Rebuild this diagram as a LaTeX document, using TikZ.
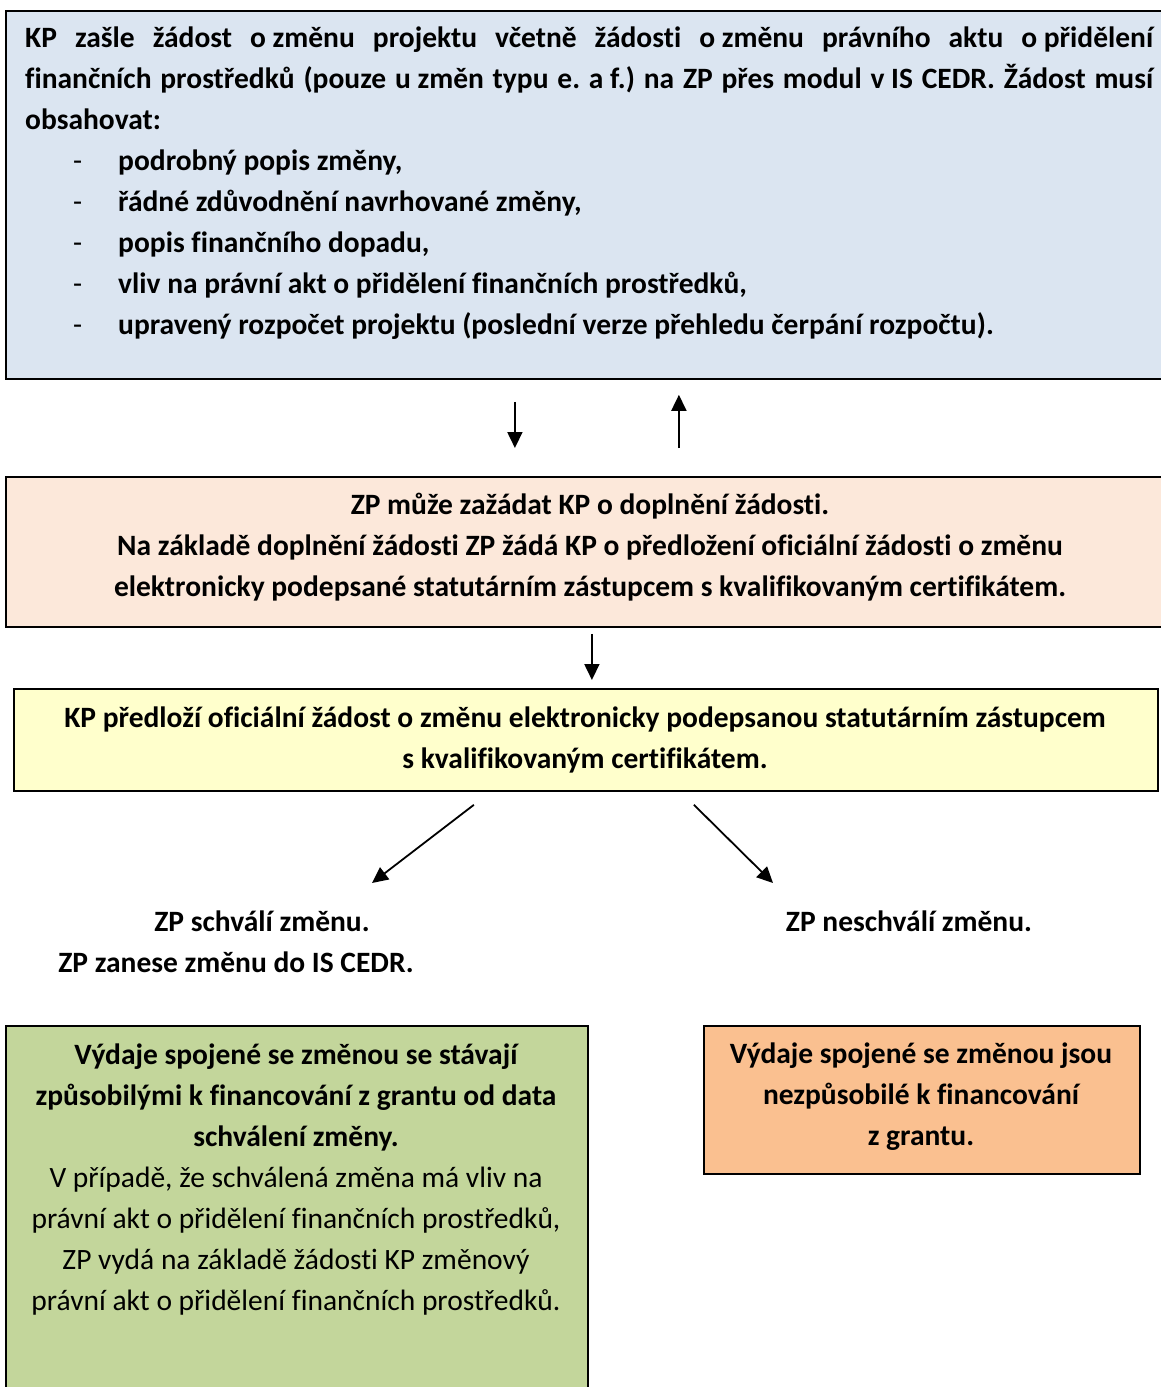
\documentclass[tikz,border=0pt]{standalone}
\usepackage{fontspec}
\setmainfont{Carlito}[Ligatures=NoCommon]
\usetikzlibrary{positioning, arrows.meta}
\definecolor{reqblue}{HTML}{DBE5F1}
\definecolor{askpeach}{HTML}{FCE8DA}
\definecolor{subyellow}{HTML}{FFFFCC}
\definecolor{okgreen}{HTML}{C3D69B}
\definecolor{noorange}{HTML}{FAC090}
\hyphenpenalty=10000
\exhyphenpenalty=10000
\frenchspacing
\newcommand{\reqitem}{\hspace*{48pt}\makebox[45pt][l]{\mdseries -}}

\begin{document}
\begin{tikzpicture}[
                    x=1pt, y=-1pt,
                    every node/.style={font=\fontsize{29.5}{41}\selectfont\bfseries, inner sep=0pt},
                    frame/.style={draw=black, line width=1.8pt, anchor=north west},
                    arr/.style={-{Triangle[length=16pt,width=15pt]}, line width=1.8pt}
                ]
                \useasboundingbox (0,0) rectangle (1161,1387);
                % boxes
                \node[frame, fill=reqblue, minimum width=1170pt, minimum height=368pt] (req) at (5,10) {};
                \node[frame, fill=askpeach, minimum width=1170pt, minimum height=150pt] (ask) at (5,476) {};
                \node[frame, fill=subyellow, minimum width=1144pt, minimum height=102pt] (sub) at (13,688) {};
                \node[frame, fill=okgreen, minimum width=582pt, minimum height=420pt] (ok) at (5,1025) {};
                \node[frame, fill=noorange, minimum width=436pt, minimum height=148pt] (no) at (703,1025) {};
                % texts (align=center nodes sit on the baseline of their last line)
                \node[anchor=base west, text width=1128pt, align=justify] (reqtext) at (25,47) {%
                  KP zašle žádost \mbox{o změnu} projektu včetně žádosti \mbox{o změnu} právního aktu \mbox{o přidělení}\linebreak
                  finančních prostředků (pouze \mbox{u změn} typu e. \mbox{a f.)} na ZP přes modul \mbox{v IS} CEDR. Žádost musí\linebreak
                  obsahovat:\par
                  \reqitem podrobný popis změny,\par
                  \reqitem řádné zdůvodnění navrhované změny,\par
                  \reqitem popis finančního dopadu,\par
                  \reqitem vliv na právní akt o přidělení finančních prostředků,\par
                  \reqitem upravený rozpočet projektu (poslední verze přehledu čerpání rozpočtu).};
                \node[anchor=base, align=center] (asktext) at (590,596) {ZP může zažádat KP o doplnění žádosti.\\
                  Na základě doplnění žádosti ZP žádá KP o předložení oficiální žádosti o změnu\\
                  elektronicky podepsané statutárním zástupcem s kvalifikovaným certifikátem.};
                \node[anchor=base, align=center] (subtext) at (585,768) {KP předloží oficiální žádost o změnu elektronicky podepsanou statutárním zástupcem\\
                  s kvalifikovaným certifikátem.};
                \node[anchor=base, align=center] (okmsg) at (236,972) {\hspace*{52pt}ZP schválí změnu.\\ZP zanese změnu do IS CEDR.};
                \node[anchor=base] (nomsg) at (909,931) {ZP neschválí změnu.};
                \node[anchor=base, align=center] (oktext) at (296,1310) {Výdaje spojené se změnou se stávají\\
                  způsobilými k financování z grantu od data\\
                  schválení změny.\\
                  \mdseries V případě, že schválená změna má vliv na\\
                  \mdseries právní akt o přidělení finančních prostředků,\\
                  \mdseries ZP vydá na základě žádosti KP změnový\\
                  \mdseries právní akt o přidělení finančních prostředků.};
                \node[anchor=base, align=center] (notext) at (921,1145) {Výdaje spojené se změnou jsou\\
                  nezpůsobilé k financování\\
                  z grantu.};
                % arrows
                \coordinate (okend) at (372,883);
                \coordinate (noend) at (773,883);
                \draw[arr, shorten <=22pt, shorten >=28pt] ([xshift=-76pt]req.south) -- ([xshift=-76pt]ask.north);
                \draw[arr, shorten <=28pt, shorten >=15pt] ([xshift=88pt]ask.north) -- ([xshift=88pt]req.south);
                \draw[arr, shorten <=6pt, shorten >=8pt] ([xshift=1pt]ask.south) -- ([xshift=6pt]sub.north);
                \draw[arr] ([xshift=-112pt, yshift=-13pt]sub.south) -- (okend);
                \draw[arr] ([xshift=108pt, yshift=-13pt]sub.south) -- (noend);
\end{tikzpicture}
\end{document}
